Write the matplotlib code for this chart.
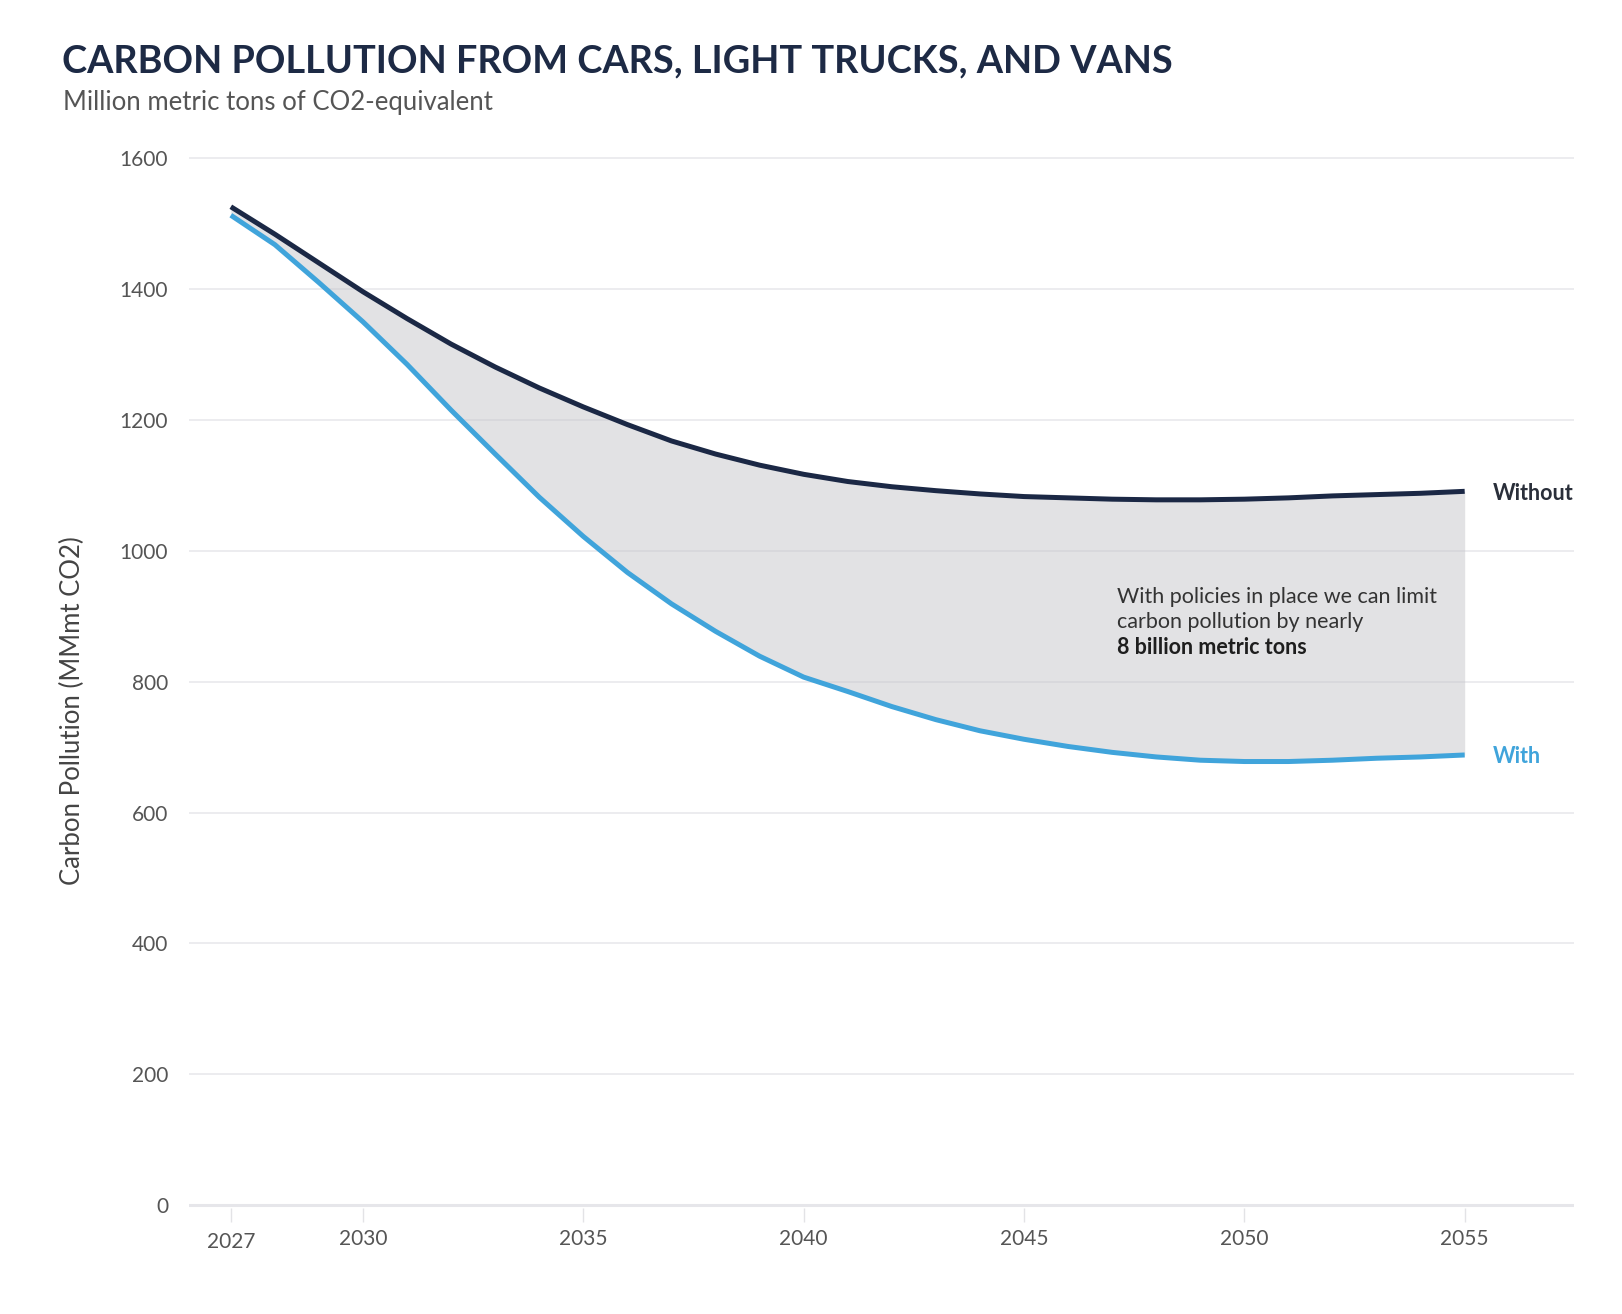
import matplotlib
matplotlib.use('Agg')
import matplotlib.pyplot as plt
import numpy as np

plt.rcParams['font.family'] = ['Lato', 'DejaVu Sans']

years = list(range(2027, 2056))
without_policy = [1526, 1484, 1440, 1396, 1355, 1316, 1281, 1249, 1220, 1193,
                  1168, 1148, 1131, 1117, 1106, 1098, 1092, 1087, 1083, 1081,
                  1079, 1078, 1078, 1079, 1081, 1084, 1086, 1088, 1091]
with_policy = [1513, 1468, 1410, 1350, 1285, 1215, 1148, 1082, 1022, 967,
               919, 877, 839, 807, 785, 762, 742, 725, 712, 701,
               692, 685, 680, 678, 678, 680, 683, 685, 688]
x_ticks = [2027, 2030, 2035, 2040, 2045, 2050, 2055]
y_ticks = [0, 200, 400, 600, 800, 1000, 1200, 1400, 1600]

NAVY = '#1b2845'
BLUE = '#40a4db'
GRID = '#ececef'

fig = plt.figure(figsize=(16.22, 13.14), dpi=100)
ax = fig.add_axes([0.1165, 0.0804, 0.8539, 0.8016])

x = np.array(years)
ax.fill_between(x, with_policy, without_policy, color='#c6c6ca', alpha=0.5,
                linewidth=0, zorder=2)
ax.plot(x, without_policy, color=NAVY, lw=3.6, solid_capstyle='butt',
        solid_joinstyle='round', zorder=3)
ax.plot(x, with_policy, color=BLUE, lw=3.6, solid_capstyle='butt',
        solid_joinstyle='round', zorder=3)

for v in y_ticks:
    ax.axhline(v, color='#e6e6ea' if v == 0 else GRID,
               lw=2.2 if v == 0 else 1.4, zorder=1)

ax.set_xlim(2026.05, 2057.48)
ax.set_ylim(-5, 1605)
ax.set_yticks(y_ticks)
ax.set_xticks(x_ticks)
ax.set_xticklabels([str(t) for t in x_ticks])
ax.tick_params(axis='y', length=0, pad=15, labelsize=15, labelcolor='#555555')
ax.tick_params(axis='x', length=10, width=1, color='#e3e3e6', pad=5,
               labelsize=15, labelcolor='#555555')
ax.get_xticklabels()[0].set_y(-0.003)
for s in ax.spines.values():
    s.set_visible(False)

ax.set_ylabel('Carbon Pollution (MMmt CO2)', fontsize=18.5, color='#444444')
ax.yaxis.set_label_coords(-0.0752, 0.4725)

ax.text(2055.63, 1088, 'Without', fontsize=15.5,
        fontweight='bold', color='#2a2f3a', ha='left', va='center')
ax.text(2055.63, 685, 'With', fontsize=15.5,
        fontweight='bold', color=BLUE, ha='left', va='center')

ax.text(2047.1, 929, 'With policies in place we can limit',
        fontsize=15.5, color='#333333', ha='left', va='center')
ax.text(2047.1, 891, 'carbon pollution by nearly',
        fontsize=15.5, color='#333333', ha='left', va='center')
ax.text(2047.1, 853, '8 billion metric tons', fontsize=15.5, fontweight='bold',
        color='#1e1e1e', ha='left', va='center')

fig.text(0.038, 0.953, 'CARBON POLLUTION FROM CARS, LIGHT TRUCKS, AND VANS',
         fontsize=27.3, fontweight='bold', color='#1d2a45', ha='left', va='center')
fig.text(0.039, 0.922, 'Million metric tons of CO2-equivalent', fontsize=18.5,
         color='#555555', ha='left', va='center')

fig.savefig('out.png', dpi=100, facecolor='white')
